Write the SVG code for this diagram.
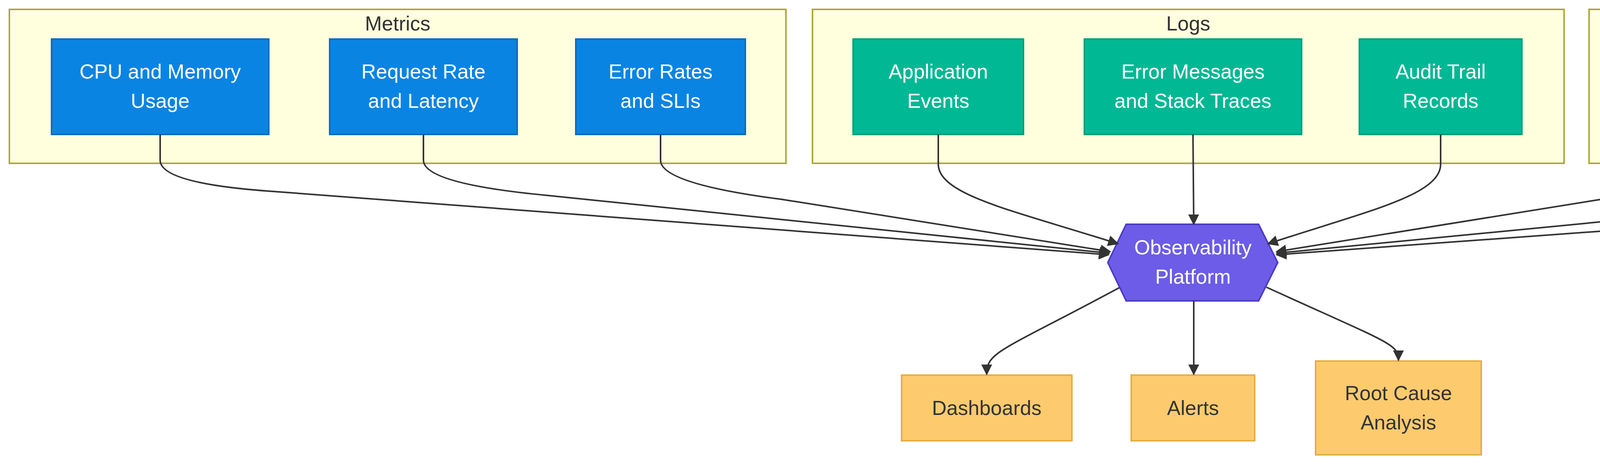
<svg xmlns="http://www.w3.org/2000/svg" width="6272" height="1208" viewBox="0 0 6272 1208">
<style>
text{font-family:"Liberation Sans",Arial,sans-serif;font-size:52px;text-anchor:middle;dominant-baseline:central}
.cl{fill:#ffffde;stroke:#aaaa33;stroke-width:4}
.ct{fill:#333}
.m{fill:#0984e3;stroke:#0a6cc0;stroke-width:4}
.l{fill:#00b894;stroke:#00a07f;stroke-width:4}
.t{fill:#e17055;stroke:#c4563d;stroke-width:4}
.h{fill:#6c5ce7;stroke:#4b3bc4;stroke-width:4}
.o{fill:#fdcb6e;stroke:#e5ae45;stroke-width:4}
.w{fill:#fff}
.d{fill:#333}
.e{fill:none;stroke:#333;stroke-width:4}
</style>
<defs><marker id="a" viewBox="0 0 10 10" refX="9" refY="5" markerWidth="28" markerHeight="28" markerUnits="userSpaceOnUse" orient="auto"><path d="M0,0L10,5L0,10z" fill="#333"/></marker></defs>
<rect width="6272" height="1208" fill="#fff"/>
<g id="metrics"><rect class="cl" x="24" y="24" width="1988" height="394"/><text class="ct" x="1018" y="60">Metrics</text></g>
<g id="logs"><rect class="cl" x="2080" y="24" width="1924" height="394"/><text class="ct" x="3042" y="60">Logs</text></g>
<g id="traces"><rect class="cl" x="4068" y="24" width="2116" height="394"/><text class="ct" x="5126" y="60">Traces</text></g>
<g id="cpu"><rect class="m" x="132" y="100" width="556" height="244"/><text class="w" x="410" y="183">CPU and Memory</text><text class="w" x="410" y="258">Usage</text></g>
<g id="req"><rect class="m" x="844" y="100" width="480" height="244"/><text class="w" x="1084" y="183">Request Rate</text><text class="w" x="1084" y="258">and Latency</text></g>
<g id="err"><rect class="m" x="1474" y="100" width="434" height="244"/><text class="w" x="1691" y="183">Error Rates</text><text class="w" x="1691" y="258">and SLIs</text></g>
<g id="app"><rect class="l" x="2184" y="100" width="436" height="244"/><text class="w" x="2402" y="183">Application</text><text class="w" x="2402" y="258">Events</text></g>
<g id="errmsg"><rect class="l" x="2776" y="100" width="556" height="244"/><text class="w" x="3054" y="183">Error Messages</text><text class="w" x="3054" y="258">and Stack Traces</text></g>
<g id="audit"><rect class="l" x="3480" y="100" width="416" height="244"/><text class="w" x="3688" y="183">Audit Trail</text><text class="w" x="3688" y="258">Records</text></g>
<g id="path"><rect class="t" x="4172" y="100" width="524" height="244"/><text class="w" x="4434" y="183">Request Path</text><text class="w" x="4434" y="258">Across Services</text></g>
<g id="span"><rect class="t" x="4848" y="100" width="596" height="244"/><text class="w" x="5146" y="183">Span Timing</text><text class="w" x="5146" y="258">and Dependencies</text></g>
<g id="bottle"><rect class="t" x="5588" y="100" width="484" height="244"/><text class="w" x="5830" y="183">Bottleneck</text><text class="w" x="5830" y="258">Identification</text></g>
<g id="platform"><polygon class="h" points="2883,574 3222,574 3271,672 3222,770 2883,770 2836,672"/><text class="w" x="3054" y="633">Observability</text><text class="w" x="3054" y="708">Platform</text></g>
<g id="dash"><rect class="o" x="2308" y="960" width="436" height="168"/><text class="d" x="2526" y="1044">Dashboards</text></g>
<g id="alerts"><rect class="o" x="2896" y="960" width="316" height="168"/><text class="d" x="3054" y="1044">Alerts</text></g>
<g id="rca"><rect class="o" x="3368" y="924" width="424" height="240"/><text class="d" x="3580" y="1006">Root Cause</text><text class="d" x="3580" y="1081">Analysis</text></g>
<g id="edges">
<path class="e" marker-end="url(#a)" d="M410,344V410Q410,470 700,490L2838,652"/>
<path class="e" marker-end="url(#a)" d="M1084,344V410Q1084,470 1400,500L2840,648"/>
<path class="e" marker-end="url(#a)" d="M1691,344V410Q1691,470 2000,510L2842,644"/>
<path class="e" marker-end="url(#a)" d="M2402,344V420C2402,500 2600,540 2862,624"/>
<path class="e" marker-end="url(#a)" d="M3054,344L3056,574"/>
<path class="e" marker-end="url(#a)" d="M3688,344V420C3688,500 3500,540 3246,624"/>
<path class="e" marker-end="url(#a)" d="M4434,344V410Q4434,470 4100,510L3268,644"/>
<path class="e" marker-end="url(#a)" d="M5146,344V410Q5146,470 4800,500L3268,648"/>
<path class="e" marker-end="url(#a)" d="M5830,344V410Q5830,470 5500,490L3268,652"/>
<path class="e" marker-end="url(#a)" d="M2866,736C2560,900 2526,900 2526,958"/>
<path class="e" marker-end="url(#a)" d="M3056,770V958"/>
<path class="e" marker-end="url(#a)" d="M3242,735C3560,880 3580,880 3580,922"/>
</g>
</svg>
